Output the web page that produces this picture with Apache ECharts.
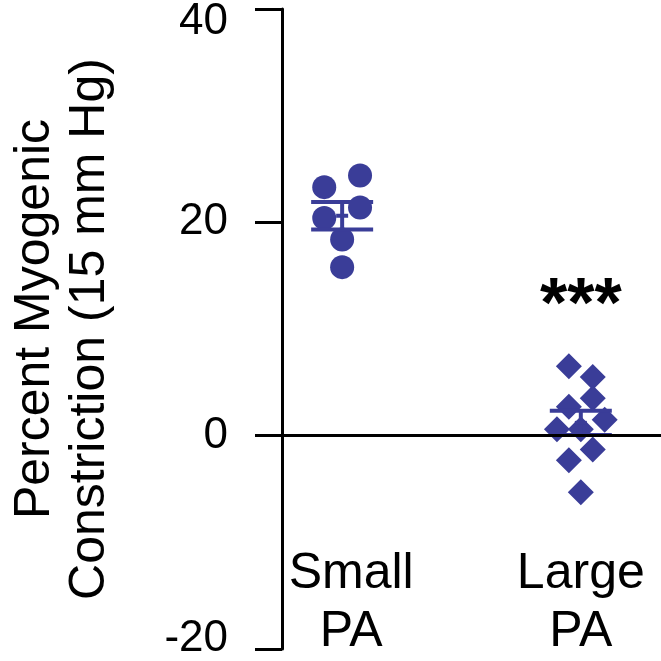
<!DOCTYPE html>
<html>
<head>
<meta charset="utf-8">
<script src="https://cdn.jsdelivr.net/npm/echarts@6/dist/echarts.min.js"></script>
<style>html,body{margin:0;padding:0;background:#fff}#c{width:661px;height:661px}</style>
</head>
<body>
<div id="c"></div>
<script>
// ---- data ----
const categories = ['Small PA', 'Large PA'];
const smallPA = [24.4, 23.3, 21.4, 20.4, 18.4, 15.8];
const largePA = [6.5, 5.5, 3.5, 2.7, 1.5, 0.6, 0.6, -1.3, -2.3, -5.3];
const yTicks = [-20, 0, 20, 40];
const significance = '***';

// ---- layout (not data) ----
const smallJitter = [1.5, -1.5, 1.5, -1.5, 0, 0];
const largeJitter = [-1, 1, 1, -1, 2, -2, 0, 1, -1, 0];
const jitterStep = 0.05;
const blue = '#3a3d98';

function stats(arr) {
  const n = arr.length;
  const m = arr.reduce((a, b) => a + b, 0) / n;
  const sd = Math.sqrt(arr.reduce((a, b) => a + (b - m) * (b - m), 0) / (n - 1));
  return [m, sd / Math.sqrt(n)];
}
const sS = stats(smallPA), sL = stats(largePA);
const errData = [[1, sS[0], sS[1]], [2, sL[0], sL[1]]];

const chart = echarts.init(document.getElementById('c'));
const font = 'Liberation Sans, Arial, sans-serif';
chart.setOption({
  animation: false,
  grid: { left: 264, right: 0, top: 8, bottom: 11 },
  xAxis: {
    type: 'value', min: 0.748, max: 2.336,
    axisLine: { show: false }, axisTick: { show: false }, splitLine: { show: false },
    axisLabel: {
      customValues: [1, 2],
      margin: -104,
      fontSize: 50, lineHeight: 58, color: '#000', fontFamily: font,
      formatter: v => {
        const i = Math.round(v) - 1;
        const t = categories[i].split(' ').join('\n');
        return i === 0 ? '{s|' + categories[i].split(' ').join('}\n{s|') + '}' : t;
      },
      rich: { s: { fontSize: 50, lineHeight: 58, color: '#000', fontFamily: font, padding: [0, 0, 0, 18] } }
    }
  },
  yAxis: {
    type: 'value', min: yTicks[0], max: yTicks[yTicks.length - 1], interval: 20,
    name: '{a|Percent Myogenic}\n{b|Constriction (15 mm Hg)}',
    nameLocation: 'middle', nameGap: 164, nameRotate: 90,
    nameTextStyle: {
      fontSize: 50, lineHeight: 55, color: '#000', fontFamily: font,
      rich: {
        a: { fontSize: 50, lineHeight: 55, color: '#000', fontFamily: font, padding: [0, 0, 0, 20] },
        b: { fontSize: 50, lineHeight: 55, color: '#000', fontFamily: font }
      }
    },
    axisLine: { show: true, lineStyle: { color: '#000', width: 3 } },
    axisTick: { show: true, inside: false, length: 27, lineStyle: { color: '#000', width: 3 } },
    splitLine: { show: false },
    axisLabel: {
      margin: 54, fontSize: 44, color: '#000', fontFamily: font,
      formatter: v => v === yTicks[yTicks.length - 1] ? '{t|' + v + '}' : (v === yTicks[0] ? '{b|' + v + '}' : String(v)),
      rich: {
        t: { fontSize: 44, color: '#000', fontFamily: font, padding: [26, 0, 0, 0] },
        b: { fontSize: 44, color: '#000', fontFamily: font, padding: [0, 0, 20, 0] }
      }
    }
  },
  series: [
    {
      type: 'scatter', symbol: 'circle', symbolSize: 24,
      itemStyle: { color: blue, opacity: 1 },
      data: smallPA.map((v, i) => [1 + smallJitter[i] * jitterStep, v]), z: 3
    },
    {
      type: 'scatter', symbol: 'diamond', symbolSize: 26,
      itemStyle: { color: blue, opacity: 1 },
      data: largePA.map((v, i) => [2 + largeJitter[i] * jitterStep, v]), z: 3,
      markPoint: {
        symbol: 'circle', symbolSize: 1, itemStyle: { color: 'rgba(0,0,0,0)' },
        label: { show: true, position: 'inside', formatter: significance, fontSize: 70, fontWeight: 'bold', color: '#000', fontFamily: font },
        data: [{ coord: [2, 12] }]
      }
    },
    {
      type: 'custom', z: 4,
      data: errData,
      renderItem: (params, api) => {
        const x = api.value(0), m = api.value(1), s = api.value(2);
        const t = api.coord([x, m + s]), b = api.coord([x, m - s]), c = api.coord([x, m]);
        const hw = 31, tw = 6;
        const st = { stroke: blue, lineWidth: 4 };
        return {
          type: 'group', children: [
            { type: 'line', shape: { x1: t[0] - hw, y1: t[1], x2: t[0] + hw, y2: t[1] }, style: st },
            { type: 'line', shape: { x1: b[0] - hw, y1: b[1], x2: b[0] + hw, y2: b[1] }, style: st },
            { type: 'line', shape: { x1: t[0], y1: t[1], x2: b[0], y2: b[1] }, style: st },
            { type: 'line', shape: { x1: c[0] - tw, y1: c[1], x2: c[0] + tw, y2: c[1] }, style: st }
          ]
        };
      }
    },
    {
      type: 'line', data: [], z: 10,
      markLine: {
        silent: true, symbol: ['none', 'none'], label: { show: false },
        lineStyle: { color: '#000', width: 3, type: 'solid' },
        data: [{ yAxis: 0 }]
      }
    }
  ]
});
</script>
</body>
</html>
